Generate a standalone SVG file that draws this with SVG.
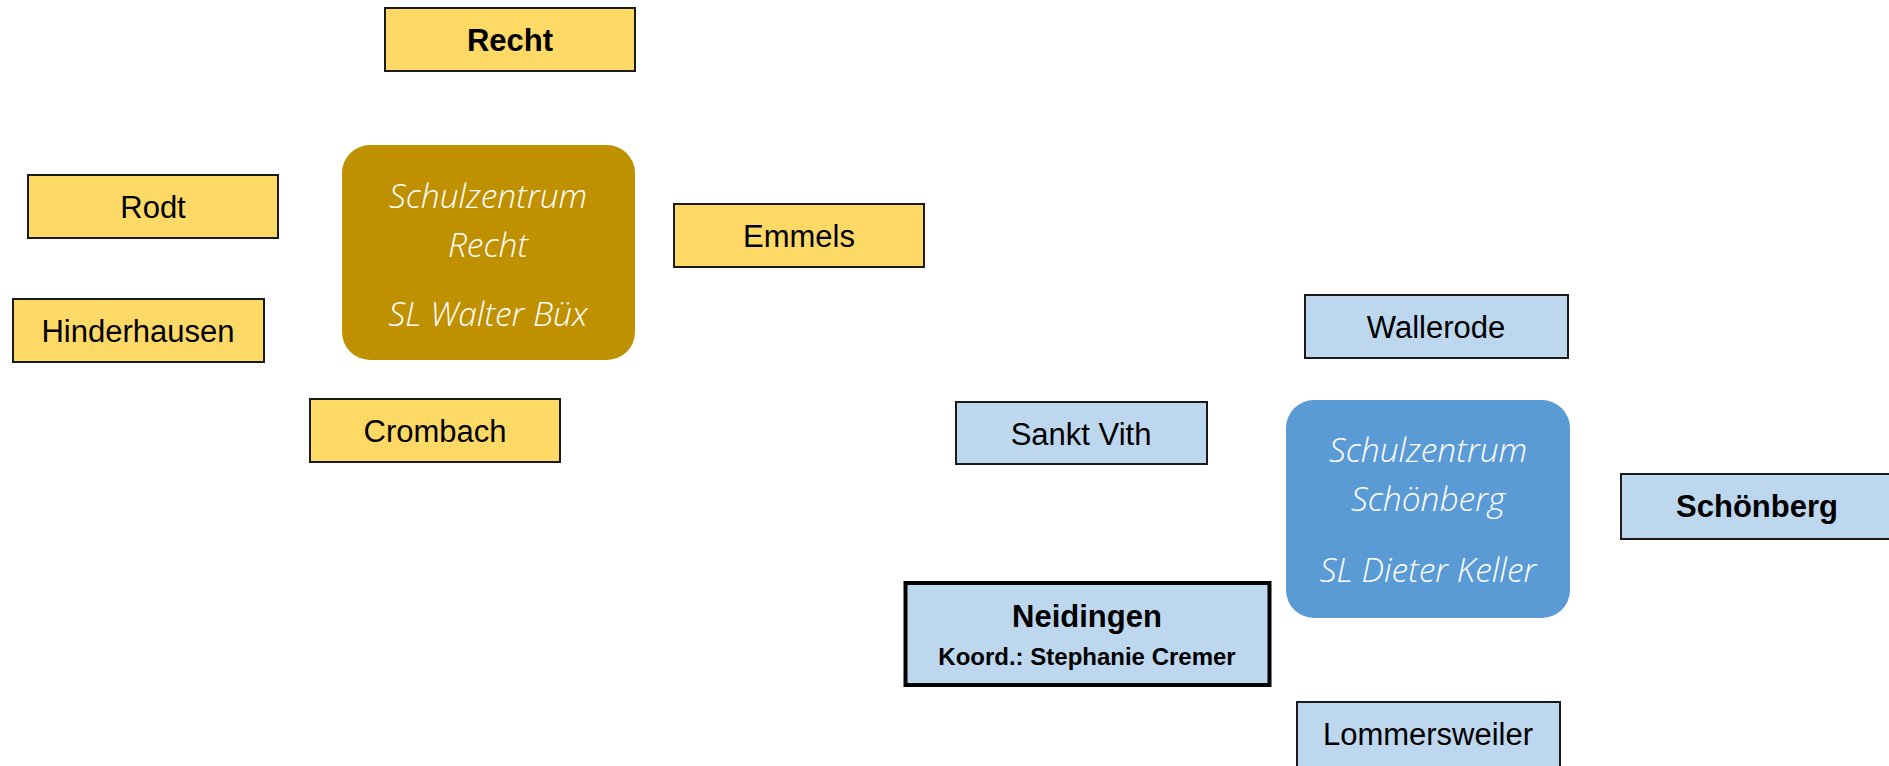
<svg xmlns="http://www.w3.org/2000/svg" width="1889" height="766" viewBox="0 0 1889 766">
<style>
.y{fill:#FFD966;stroke:#1a1a1a;stroke-width:2}
.b{fill:#BDD7EE;stroke:#1a1a1a;stroke-width:2}
.t{font-family:"Liberation Sans",Arial,sans-serif;font-size:31px;fill:#000;text-anchor:middle}
.bd{font-weight:bold}
.c{font-family:"Open Sans","Liberation Sans",sans-serif;font-style:italic;font-weight:300;font-size:33.5px;fill:#fff;text-anchor:middle}
</style>
<rect width="1889" height="766" fill="#fff"/>
<g id="connectors"></g>
<g id="recht"><rect class="y" x="385" y="8" width="250" height="63"/><text class="t bd" x="510" y="51">Recht</text></g>
<g id="rodt"><rect class="y" x="28" y="175" width="250" height="63"/><text class="t" x="153" y="218">Rodt</text></g>
<g id="hinderhausen"><rect class="y" x="13" y="299" width="251" height="63"/><text class="t" x="138" y="342">Hinderhausen</text></g>
<g id="sz-recht"><rect x="342" y="145" width="293" height="215" rx="28" fill="#BF9000"/>
<text class="c" x="488" y="208">Schulzentrum</text><text class="c" x="488" y="257">Recht</text><text class="c" x="488" y="326">SL Walter Büx</text></g>
<g id="emmels"><rect class="y" x="674" y="204" width="250" height="63"/><text class="t" x="799" y="247">Emmels</text></g>
<g id="crombach"><rect class="y" x="310" y="399" width="250" height="63"/><text class="t" x="435" y="442">Crombach</text></g>
<g id="wallerode"><rect class="b" x="1305" y="295" width="263" height="63"/><text class="t" x="1436" y="338">Wallerode</text></g>
<g id="sanktvith"><rect class="b" x="956" y="402" width="251" height="62"/><text class="t" x="1081" y="445">Sankt Vith</text></g>
<g id="sz-schoenberg"><rect x="1286" y="400" width="284" height="218" rx="28" fill="#5B9BD5"/>
<text class="c" x="1428" y="462">Schulzentrum</text><text class="c" x="1428" y="511">Schönberg</text><text class="c" x="1428" y="582">SL Dieter Keller</text></g>
<g id="schoenberg"><rect class="b" x="1621" y="474" width="272" height="65"/><text class="t bd" x="1757" y="517">Schönberg</text></g>
<g id="neidingen"><rect x="905.5" y="583" width="364" height="102" fill="#BDD7EE" stroke="#000" stroke-width="4"/>
<text class="t bd" x="1087" y="627">Neidingen</text><text class="t bd" x="1087" y="665" style="font-size:24px">Koord.: Stephanie Cremer</text></g>
<g id="lommersweiler"><rect class="b" x="1297" y="702" width="263" height="70"/><text class="t" x="1428" y="745">Lommersweiler</text></g>
</svg>
